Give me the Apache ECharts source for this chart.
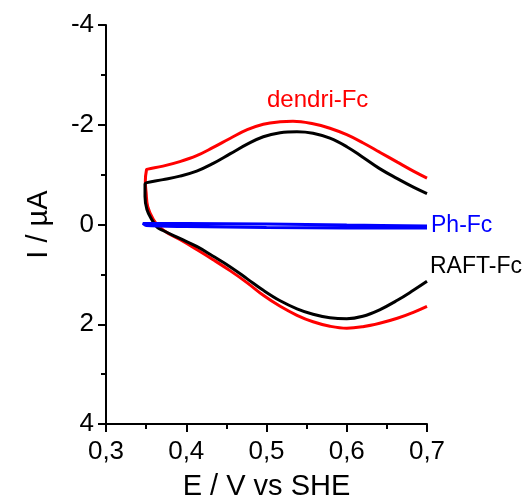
<!DOCTYPE html>
<html>
<head>
<meta charset="utf-8">
<script src="https://cdn.jsdelivr.net/npm/echarts@6/dist/echarts.min.js"></script>
<style>
html,body{margin:0;padding:0;background:#fff;}
#chart{width:526px;height:502px;}
</style>
</head>
<body>
<div id="chart"></div>
<script>
// Potential E (V vs SHE) and current I (µA)
const redE = [0.700,0.683,0.663,0.641,0.620,0.600,0.579,0.558,0.533,0.517,0.496,0.476,0.455,0.433,0.413,0.392,0.371,0.352,0.3505,
              0.349,0.350,0.352,0.359,0.367,0.380,0.392,0.413,0.433,0.455,0.476,0.496,0.517,0.538,0.558,0.579,0.600,0.620,0.641,0.663,0.683,0.700];
const redI = [-0.93,-1.07,-1.25,-1.45,-1.64,-1.80,-1.93,-2.02,-2.07,-2.06,-2.01,-1.90,-1.73,-1.54,-1.38,-1.26,-1.17,-1.11,-1.10,
              -0.86,-0.64,-0.36,-0.10,0.06,0.20,0.30,0.50,0.70,0.93,1.17,1.42,1.64,1.82,1.95,2.04,2.08,2.05,1.98,1.88,1.76,1.64];

const blackE = [0.700,0.683,0.663,0.641,0.620,0.600,0.579,0.558,0.538,0.517,0.496,0.476,0.455,0.433,0.413,0.392,0.371,0.351,
                0.3486,0.3486,0.351,0.357,0.364,0.371,0.392,0.413,0.433,0.455,0.476,0.496,0.517,0.538,0.558,0.579,0.600,0.620,0.641,0.663,0.683,0.700];
const blackI = [-0.62,-0.75,-0.92,-1.12,-1.35,-1.56,-1.73,-1.83,-1.86,-1.84,-1.76,-1.61,-1.42,-1.22,-1.07,-0.97,-0.90,-0.84,
                -0.80,-0.56,-0.30,-0.10,0.06,0.12,0.28,0.44,0.63,0.85,1.09,1.32,1.53,1.69,1.80,1.87,1.89,1.84,1.71,1.52,1.32,1.14];

const blueE = [0.700,0.600,0.500,0.400,0.346,0.350,0.400,0.500,0.600,0.700];
const blueI = [0.03,0.01,-0.01,-0.02,-0.02,0.02,0.04,0.06,0.07,0.07];

const seriesNames = ['dendri-Fc','RAFT-Fc','Ph-Fc'];
const xTitle = 'E / V vs SHE';
const yTitle = 'I / µA';

const pairs = (xs, ys) => xs.map((x, i) => [x, ys[i]]);
const FONT = 'Liberation Sans, Arial, sans-serif';

const chart = echarts.init(document.getElementById('chart'), null, {renderer: 'canvas'});
chart.setOption({
  animation: false,
  backgroundColor: '#fff',
  grid: {left: 106, right: 99, top: 25, bottom: 78, containLabel: false, outerBoundsMode: 'none'},
  xAxis: {
    type: 'value', min: 0.3, max: 0.7, interval: 0.1,
    name: xTitle, nameLocation: 'middle', nameGap: 48,
    nameTextStyle: {fontFamily: FONT, fontSize: 29, color: '#000'},
    axisLine: {onZero: false, lineStyle: {color: '#000', width: 2}},
    axisTick: {show: true, inside: false, length: 8, lineStyle: {color: '#000', width: 2}},
    minorTick: {show: true, splitNumber: 2, length: 5, lineStyle: {color: '#000', width: 2}},
    splitLine: {show: false},
    axisLabel: {fontFamily: FONT, fontSize: 26, color: '#000', margin: 15,
      formatter: v => v.toFixed(1).replace('.', ',')}
  },
  yAxis: {
    type: 'value', min: -4, max: 4, interval: 2, inverse: true,
    name: yTitle, nameLocation: 'middle', nameGap: 53,
    nameTextStyle: {fontFamily: FONT, fontSize: 29, color: '#000'},
    axisLine: {onZero: false, lineStyle: {color: '#000', width: 2}},
    axisTick: {show: true, inside: false, length: 8, lineStyle: {color: '#000', width: 2}},
    minorTick: {show: true, splitNumber: 2, length: 5, lineStyle: {color: '#000', width: 2}},
    splitLine: {show: false},
    axisLabel: {fontFamily: FONT, fontSize: 26, color: '#000', margin: 12}
  },
  series: [
    {name: seriesNames[0], type: 'line', data: pairs(redE, redI), showSymbol: false, smooth: 0.4,
     lineStyle: {color: '#ff0000', width: 3}, clip: true},
    {name: seriesNames[1], type: 'line', data: pairs(blackE, blackI), showSymbol: false, smooth: 0.4,
     lineStyle: {color: '#000000', width: 3}, clip: true},
    {name: seriesNames[2], type: 'line', data: pairs(blueE, blueI), showSymbol: false, smooth: 0.3,
     lineStyle: {color: '#0000ff', width: 3}, clip: true}
  ],
  graphic: [
    {type: 'text', left: 267, top: 88, style: {text: seriesNames[0], fill: '#ff0000', font: '24px ' + FONT}},
    {type: 'text', left: 431, top: 214, style: {text: seriesNames[2], fill: '#0000ff', font: '23px ' + FONT}},
    {type: 'text', left: 430, top: 255, style: {text: seriesNames[1], fill: '#000000', font: '23px ' + FONT}}
  ]
});
</script>
</body>
</html>
